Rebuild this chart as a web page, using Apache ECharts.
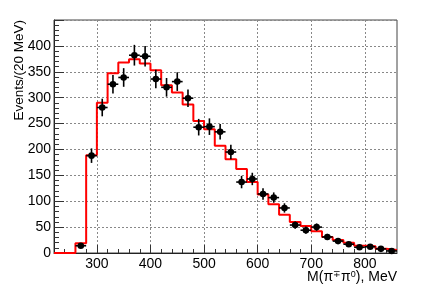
<!DOCTYPE html>
<html>
<head>
<meta charset="utf-8">
<script src="https://cdn.jsdelivr.net/npm/echarts@6/dist/echarts.min.js"></script>
<style>
html,body{margin:0;padding:0;background:#fff;}
#chart{width:429px;height:292px;}
</style>
</head>
<body>
<div id="chart"></div>
<script>
// ---- data ----
const mcLowEdges = [220,240,260,280,300,320,340,360,380,400,420,440,460,480,500,520,540,560,580,600,620,640,660,680,700,720,740,760,780,800,820,840];
const mcValues   = [0,0,19,189,290,347,368,374,366,353,324,310,287,255,239,207,181,162,137,113,94,74,60,52,42,31,25,20,14,13,8,6];
const dataCenters = [270,290,310,330,350,370,390,410,430,450,470,490,510,530,550,570,590,610,630,650,670,690,710,730,750,770,790,810,830,850];
const dataValues  = [14,188,281,326,339,382,380,336,320,331,299,243,244,234,195,137,143,114,107,87,54,44,50,31,23,17,11,12,8,4];
const dataErrors  = [4,14,17,18,18,20,20,18,18,18,17,16,16,15,14,12,12,11,10,9,7,7,7,6,5,4,3,3,3,2];
const binWidth = 20;
const xRange = [220, 860];
const yRange = [0, 450];
const xMajorTicks = [300,400,500,600,700,800];
const xMinorTicks = [240,260,280,300,320,340,360,380,400,420,440,460,480,500,520,540,560,580,600,620,640,660,680,700,720,740,760,780,800,820,840];
const yTickLabels = [0,50,100,150,200,250,300,350,400];
const xTitle = 'M(π{sup|∓}π{sup|0}), MeV';
const yTitle = 'Events/(20 MeV)';

// build series data
const histData = mcLowEdges.map((e, i) => [e, mcValues[i]]);
histData.push([xRange[1], mcValues[mcValues.length - 1]]);
const pointData = dataCenters.map((c, i) => [c, dataValues[i], dataErrors[i]]);

const FONT = 'Liberation Sans';
const chart = echarts.init(document.getElementById('chart'), null, {renderer: 'canvas'});
chart.setOption({
  animation: false,
  backgroundColor: '#fff',
  grid: {left: 54, right: 32, top: 20, bottom: 39, containLabel: false, outerBoundsMode: 'none',
         show: true, borderColor: '#444', borderWidth: 1, backgroundColor: 'transparent'},
  graphic: [{
    type: 'text', x: 397, y: 277,
    style: {
      text: xTitle, align: 'right', verticalAlign: 'middle',
      fill: '#000', fontFamily: FONT, fontSize: 14,
      rich: {sup: {fontSize: 9, fontFamily: FONT, fill: '#000', verticalAlign: 'top', lineHeight: 10}}
    }
  }, {
    type: 'text', x: 19, y: 20, rotation: Math.PI / 2,
    style: {text: yTitle, align: 'right', verticalAlign: 'middle', fill: '#000', fontFamily: FONT, fontSize: 13.5}
  }],
  xAxis: [{
    type: 'value', min: xRange[0], max: xRange[1],
    axisLine: {show: true, lineStyle: {color: '#222', width: 1}},
    axisTick: {show: true, inside: true, length: 8, customValues: xMajorTicks, lineStyle: {color: '#333'}},
    axisLabel: {show: true, customValues: xMajorTicks, margin: 4, color: '#000', fontFamily: FONT, fontSize: 14},
    splitLine: {show: true, lineStyle: {color: '#888', type: [2, 2], width: 1}}
  }, {
    type: 'value', min: xRange[0], max: xRange[1], position: 'bottom',
    axisLine: {show: false},
    axisTick: {show: true, inside: true, length: 4, customValues: xMinorTicks, lineStyle: {color: '#333'}},
    axisLabel: {show: false},
    splitLine: {show: false}
  }],
  yAxis: {
    type: 'value', min: yRange[0], max: yRange[1], interval: 50,
    axisLine: {show: true, lineStyle: {color: '#222', width: 1}},
    axisTick: {show: true, inside: true, length: 10, lineStyle: {color: '#333'}},
    minorTick: {show: true, splitNumber: 5, length: 5, lineStyle: {color: '#333'}},
    axisLabel: {show: true, customValues: yTickLabels, margin: 3, color: '#000', fontFamily: FONT, fontSize: 14},
    splitLine: {show: true, lineStyle: {color: '#888', type: [2, 2], width: 1}}
  },
  series: [{
    type: 'line', xAxisIndex: 0, step: 'end', data: histData, showSymbol: false, symbol: 'none',
    lineStyle: {color: '#ff0000', width: 2}, clip: true, z: 2
  }, {
    type: 'custom', xAxisIndex: 0, data: pointData, z: 3,
    renderItem: function (params, api) {
      const x = api.value(0), y = api.value(1), err = api.value(2);
      const c = api.coord([x, y]);
      const top = api.coord([x, y + err]);
      const bot = api.coord([x, Math.max(y - err, 0)]);
      const left = api.coord([x - binWidth / 2, y]);
      const right = api.coord([x + binWidth / 2, y]);
      const style = {stroke: '#000', lineWidth: 1.6};
      return {
        type: 'group',
        children: [
          {type: 'line', shape: {x1: top[0], y1: top[1], x2: bot[0], y2: bot[1]}, style: style},
          {type: 'line', shape: {x1: left[0], y1: left[1], x2: right[0], y2: right[1]}, style: style},
          {type: 'circle', shape: {cx: c[0], cy: c[1], r: 3.3}, style: {fill: '#000'}}
        ]
      };
    }
  }]
});
</script>
</body>
</html>
